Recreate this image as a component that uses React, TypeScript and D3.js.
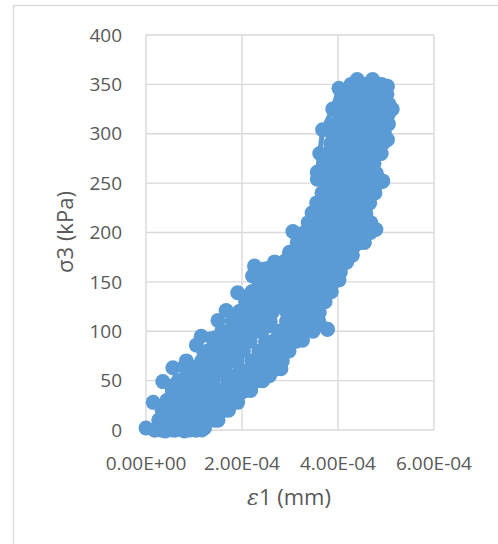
import React from "react";
import * as d3 from "d3";

// strain in units of 1e-6 (labelled in scientific notation, e.g. 2.00E-04), stress in kPa
const xTickValues = [0, 200, 400, 600];
const xTickLabels = ["0.00E+00", "2.00E-04", "4.00E-04", "6.00E-04"];
const yTickValues = [0, 50, 100, 150, 200, 250, 300, 350, 400];
const yTickLabels = ["0", "50", "100", "150", "200", "250", "300", "350", "400"];

const stage1: [number, number][] = [
  [0, 2], [18, 0], [27, 10], [34, 20], [15, 28], [44, 30], [55, 40], [35, 49], [68, 50], [85, 60], [56, 63], [84, 70],
  [164, 60], [140, 50], [122, 40], [107, 30], [91, 20], [78, 10], [61, 0], [40, -1],
  [43, 0], [56, 10], [67, 20], [80, 30], [93, 40], [109, 50], [130, 60], [158, 70],
  [242, 60], [212, 50], [189, 40], [169, 30], [148, 20], [128, 10], [104, 0], [80, -1],
  [79, 0], [99, 10], [115, 20], [133, 30], [151, 40], [171, 50], [197, 60], [221, 70],
  [281, 62], [257, 55], [243, 50], [218, 40], [191, 28], [172, 20], [150, 10], [122, 2],
];

const stage2: [number, number][] = [
  [61, 0], [78, 10], [91, 20], [107, 30], [122, 40], [140, 50], [164, 60], [190, 70], [203, 80], [217, 90], [241, 100],
  [259, 110], [264, 120], [276, 130], [289, 140], [304, 150], [222, 156],
  [371, 150], [357, 140], [344, 130], [332, 120], [337, 110], [324, 100], [292, 90], [277, 80], [263, 70], [242, 60],
  [212, 50], [189, 40], [169, 30], [148, 20], [128, 10], [104, 0],
  [18, 0], [27, 10], [34, 20], [44, 30], [55, 40], [68, 50], [85, 60], [116, 70], [105, 86], [129, 80], [141, 90],
  [115, 95], [158, 100], [150, 111], [181, 110], [167, 121], [195, 120], [208, 130], [191, 139], [221, 140], [236, 150],
  [248, 160], [268, 170], [226, 166],
  [362, 170], [346, 160], [332, 150], [318, 140], [305, 130], [293, 120], [293, 110], [277, 100], [249, 90], [235, 80],
  [221, 70], [197, 60], [171, 50], [151, 40], [133, 30], [115, 20], [99, 10], [79, 0],
  [43, 0], [56, 10], [67, 20], [80, 30], [93, 40], [109, 50], [130, 60], [158, 70], [171, 80], [184, 90], [205, 100],
  [225, 110], [234, 120], [247, 130], [260, 140], [275, 150], [288, 160], [305, 170], [326, 91],
];

const stage3: [number, number][] = [
  [293, 110], [293, 120], [305, 130], [318, 140], [332, 150], [346, 160], [362, 170], [380, 180], [397, 190], [417, 200],
  [414, 210], [413, 220], [421, 230], [432, 240], [443, 250], [437, 260], [357, 261],
  [462, 260], [470, 250], [458, 240], [447, 230], [440, 220], [445, 210], [451, 200], [430, 190], [412, 180], [399, 170],
  [386, 160], [371, 150], [357, 140], [344, 130], [332, 120], [337, 110], [324, 100], [378, 102],
  [304, 150], [317, 160], [334, 170], [356, 180], [373, 190], [391, 200], [392, 210], [393, 220], [401, 230], [412, 240],
  [423, 250], [357, 254],
  [493, 252], [477, 240], [466, 230], [458, 219], [468, 210], [479, 203], [455, 190], [430, 177], [402, 152], [386, 140],
  [373, 130], [361, 119], [378, 102],
  [205, 100], [225, 110], [234, 120], [247, 130], [260, 140], [275, 150], [288, 160], [305, 170], [331, 180], [348, 190],
  [365, 200], [306, 201], [369, 210], [373, 220], [382, 230], [393, 240], [402, 250],
  [375, 250], [367, 240], [356, 230], [346, 220], [338, 210], [331, 200], [315, 190], [299, 180], [268, 170], [248, 160],
  [236, 150], [221, 140], [208, 130], [195, 120], [181, 110], [158, 100],
];

const stage4: [number, number][] = [
  [357, 140], [371, 150], [386, 160], [399, 170], [412, 180], [430, 190], [451, 200], [445, 210], [440, 220], [447, 230],
  [458, 240], [470, 250], [462, 260], [458, 270], [471, 280], [480, 290], [483, 300], [487, 310], [492, 320], [494, 330],
  [491, 340], [483, 350], [472, 355], [440, 355],
  [443, 350], [436, 340], [434, 330], [428, 320], [421, 310], [415, 300], [412, 290], [407, 280], [400, 270], [400, 260],
  [402, 250], [393, 240], [382, 230],
  [356, 230], [367, 240], [375, 250], [375, 260], [377, 270], [381, 280], [385, 290], [388, 300], [394, 310], [403, 320],
  [410, 330], [414, 340], [427, 350], [402, 346], [389, 325], [368, 304], [362, 280], [357, 261],
  [467, 350], [469, 340], [470, 330], [467, 320], [460, 310], [456, 300], [453, 290], [445, 280], [435, 270], [437, 260],
  [443, 250], [432, 240], [421, 230], [413, 220], [414, 210], [417, 200], [397, 190], [380, 180],
  [356, 180], [373, 190], [391, 200], [392, 210], [393, 220], [401, 230], [412, 240], [423, 250], [419, 260], [418, 270],
  [426, 280], [433, 290], [436, 300], [441, 310], [448, 320], [452, 330], [453, 340], [455, 350], [503, 348],
  [513, 325], [505, 310], [503, 294], [490, 280], [475, 270], [480, 260], [493, 252],
];

const stage5: [number, number][] = [
  [31, 0], [41, 10], [51, 20], [62, 30], [74, 40], [89, 50], [108, 60], [137, 70], [150, 80], [163, 90], [182, 100],
  [203, 110], [214, 120], [228, 130], [241, 140], [255, 150], [268, 160], [287, 170], [315, 180], [331, 190], [348, 200],
  [434, 200], [414, 190], [396, 180], [380, 170], [366, 160], [352, 150], [338, 140], [325, 130], [313, 120], [315, 110],
  [301, 100], [270, 90], [256, 80], [242, 70], [219, 60], [192, 50], [170, 40], [151, 30], [132, 20], [114, 10], [92, 0],
  [55, 0], [70, 10], [83, 20], [98, 30], [112, 40], [130, 50], [152, 60], [179, 70], [192, 80], [206, 90], [229, 100],
  [248, 110], [254, 120], [266, 130], [279, 140], [294, 150], [307, 160], [324, 170], [347, 180], [364, 190], [382, 200],
  [384, 210], [386, 220], [395, 230], [406, 240], [416, 250],
  [483, 250], [471, 240], [460, 230], [453, 220], [460, 210], [468, 200], [447, 190], [428, 180], [418, 170], [405, 160],
  [390, 150], [376, 140], [363, 130], [352, 120], [360, 110], [348, 100], [313, 90], [298, 80], [284, 70], [264, 60],
  [233, 50], [208, 40], [187, 30], [164, 20], [143, 10], [116, 0],
];

const stage6: [number, number][] = [
  [353, 210], [360, 220], [369, 230], [380, 240], [389, 250], [388, 260], [389, 270], [394, 280], [399, 290], [401, 300],
  [407, 310], [416, 320], [422, 330], [425, 340], [435, 350],
  [475, 350], [480, 340], [482, 330], [479, 320], [474, 310], [470, 300], [466, 290], [458, 280], [446, 270], [449, 260],
  [456, 250], [445, 240], [434, 230], [427, 220], [430, 210],
  [460, 210], [453, 220], [460, 230], [471, 240], [483, 250], [474, 260], [469, 270], [484, 280], [493, 290], [497, 300],
  [500, 310], [505, 320], [506, 330], [502, 340], [491, 350],
  [451, 350], [447, 340], [446, 330], [441, 320], [434, 310], [429, 300], [426, 290], [420, 280], [412, 270], [412, 260],
  [416, 250],
];

const COLOR = "#5b9bd5";
const GRID = "#d9d9d9";
const TEXT = "#595959";
const FONT = "'Open Sans', 'Noto Sans', sans-serif";

export default function App() {
  const W = 498;
  const H = 544;
  const x = d3.scaleLinear().domain([0, 600]).range([146, 434]);
  const y = d3.scaleLinear().domain([0, 400]).range([430, 35]);
  const data: [number, number][] = [...stage1, ...stage2, ...stage3, ...stage4, ...stage5, ...stage6];
  const line = d3
    .line<[number, number]>()
    .x((d) => x(d[0]))
    .y((d) => y(d[1]));

  return (
    <div style={{ position: "absolute", left: 0, top: 0 }}>
      <svg width={W} height={H} style={{ display: "block", background: "#fff" }}>
        <rect x={13.5} y={5.5} width={700} height={700} fill="#fff" stroke={GRID} strokeWidth={1.3} />
        {yTickValues.map((v) => (
          <line key={"gy" + v} x1={x(0)} x2={x(600)} y1={y(v)} y2={y(v)} stroke={GRID} strokeWidth={1.4} />
        ))}
        {xTickValues.map((v) => (
          <line key={"gx" + v} x1={x(v)} x2={x(v)} y1={y(0)} y2={y(400)} stroke={GRID} strokeWidth={1.4} />
        ))}
        <path d={line(data) || ""} fill="none" stroke={COLOR} strokeWidth={5} strokeLinejoin="round" strokeLinecap="round" />
        {data.map((d, i) => (
          <circle key={"m" + i} cx={x(d[0])} cy={y(d[1])} r={7.5} fill={COLOR} />
        ))}
        {yTickValues.map((v, i) => (
          <text key={"yl" + v} x={122} y={y(v)} dy="0.35em" textAnchor="end" fontFamily={FONT} fontSize={19} fill={TEXT}>
            {yTickLabels[i]}
          </text>
        ))}
        {xTickValues.map((v, i) => (
          <text key={"xl" + v} x={x(v)} y={463} dy="0.35em" textAnchor="middle" fontFamily={FONT} fontSize={19} fill={TEXT}>
            {xTickLabels[i]}
          </text>
        ))}
        <text
          transform={`translate(65,232) rotate(-90)`}
          dy="0.35em"
          textAnchor="middle"
          fontFamily={FONT}
          fontSize={22}
          fill={TEXT}
        >
          σ3 (kPa)
        </text>
        <text x={289} y={497} dy="0.35em" textAnchor="middle" fontFamily={FONT} fontSize={22} fill={TEXT}>
          <tspan fontStyle="italic" fontFamily="'DejaVu Serif', serif">ε</tspan>1 (mm)
        </text>
      </svg>
    </div>
  );
}
